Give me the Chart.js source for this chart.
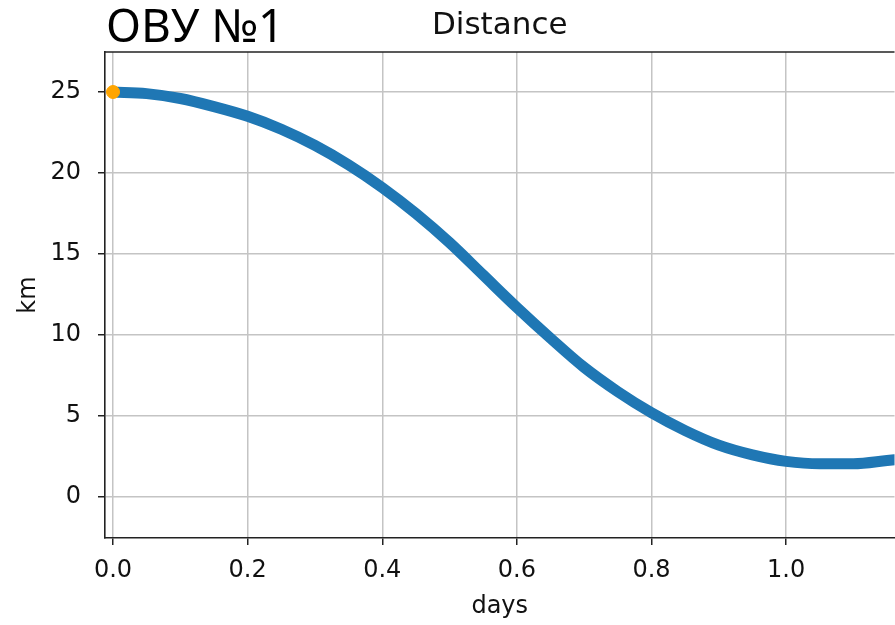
<!DOCTYPE html>
<html>
<head>
<meta charset="utf-8">
<script src="https://cdn.jsdelivr.net/npm/chart.js@4"></script>
<style>
  html, body { margin: 0; padding: 0; background: #fff; overflow: hidden; }
  #wrap { position: relative; width: 895px; height: 625px; overflow: hidden; }
</style>
</head>
<body>
<div id="wrap"><canvas id="distanceChart" width="902" height="625"></canvas></div>
<script>
// --- data ---
const days = [0, 0.05, 0.10, 0.15, 0.20, 0.25, 0.30, 0.35, 0.40, 0.45, 0.50, 0.55,
              0.60, 0.65, 0.70, 0.75, 0.80, 0.85, 0.90, 0.95, 1.00, 1.05, 1.10, 1.15, 1.161];
const distanceKm = [25.0, 24.9, 24.6, 24.1, 23.5, 22.7, 21.7, 20.5, 19.1, 17.5, 15.7, 13.7,
                    11.7, 9.8, 8.0, 6.5, 5.2, 4.1, 3.2, 2.6, 2.2, 2.05, 2.05, 2.25, 2.3];
const startPoint = [{ x: 0, y: 25 }];
const xTicks = [0.0, 0.2, 0.4, 0.6, 0.8, 1.0];
const yTicks = [0, 5, 10, 15, 20, 25];
const chartLabel = 'ОВУ №1';

const FONT = 'DejaVu Sans';

// top spine + big label in the corner
const extras = {
    id: 'extras',
    afterDraw(chart) {
        const { ctx, chartArea } = chart;
        ctx.save();
        ctx.strokeStyle = '#222';
        ctx.lineWidth = 1.6;
        ctx.beginPath();
        ctx.moveTo(chartArea.left, chartArea.top);
        ctx.lineTo(chartArea.right, chartArea.top);
        ctx.stroke();

        ctx.fillStyle = '#000';
        ctx.font = '46px "Noto Sans"';
        ctx.textBaseline = 'alphabetic';
        ctx.fillText(chartLabel, 106, 42);
        ctx.restore();
    }
};

new Chart(document.getElementById('distanceChart'), {
    type: 'scatter',
    data: {
        datasets: [
            {
                data: days.map((d, i) => ({ x: d, y: distanceKm[i] })),
                showLine: true,
                borderColor: '#1f77b4',
                backgroundColor: '#1f77b4',
                borderWidth: 11,
                borderCapStyle: 'round',
                borderJoinStyle: 'round',
                cubicInterpolationMode: 'monotone',
                pointRadius: 0,
                order: 2
            },
            {
                data: startPoint,
                backgroundColor: '#ffa500',
                borderColor: '#ffa500',
                pointRadius: 6.5,
                order: 1
            }
        ]
    },
    options: {
        responsive: false,
        animation: false,
        layout: { padding: 0 },
        plugins: {
            legend: { display: false },
            tooltip: { enabled: false },
            title: {
                display: true,
                text: 'Distance',
                fullSize: false,
                color: '#111',
                font: { family: FONT, size: 31, weight: 'normal', lineHeight: 1.2 },
                padding: { top: 7, bottom: 7.8 }
            }
        },
        scales: {
            x: {
                type: 'linear',
                min: -0.0119,
                max: 1.161,
                afterBuildTicks: (s) => { s.ticks = xTicks.map(v => ({ value: v })); },
                afterFit: (s) => { s.height = 87; s.paddingRight = 0; s.paddingLeft = 0; },
                grid: { color: '#c4c4c4', lineWidth: 1.5, tickLength: 7, tickColor: '#222', tickWidth: 1.5 },
                border: { color: '#222', width: 1.6 },
                ticks: {
                    color: '#111',
                    padding: 11,
                    maxRotation: 0,
                    font: { family: FONT, size: 24 },
                    callback: (v) => v.toFixed(1)
                },
                title: {
                    display: true,
                    text: 'days',
                    color: '#111',
                    font: { family: FONT, size: 24 },
                    padding: { top: 0, bottom: 4 }
                }
            },
            y: {
                min: -2.53,
                max: 27.47,
                afterBuildTicks: (s) => { s.ticks = yTicks.map(v => ({ value: v })); },
                afterFit: (s) => { s.width = 105; },
                grid: { color: '#c4c4c4', lineWidth: 1.5, tickLength: 7, tickColor: '#222', tickWidth: 1.5 },
                border: { color: '#222', width: 1.6 },
                ticks: {
                    color: '#111',
                    padding: 17,
                    font: { family: FONT, size: 24 }
                },
                title: {
                    display: true,
                    text: 'km',
                    color: '#111',
                    font: { family: FONT, size: 24 },
                    padding: { top: 14, bottom: 0 }
                }
            }
        }
    },
    plugins: [extras]
});
</script>
</body>
</html>
